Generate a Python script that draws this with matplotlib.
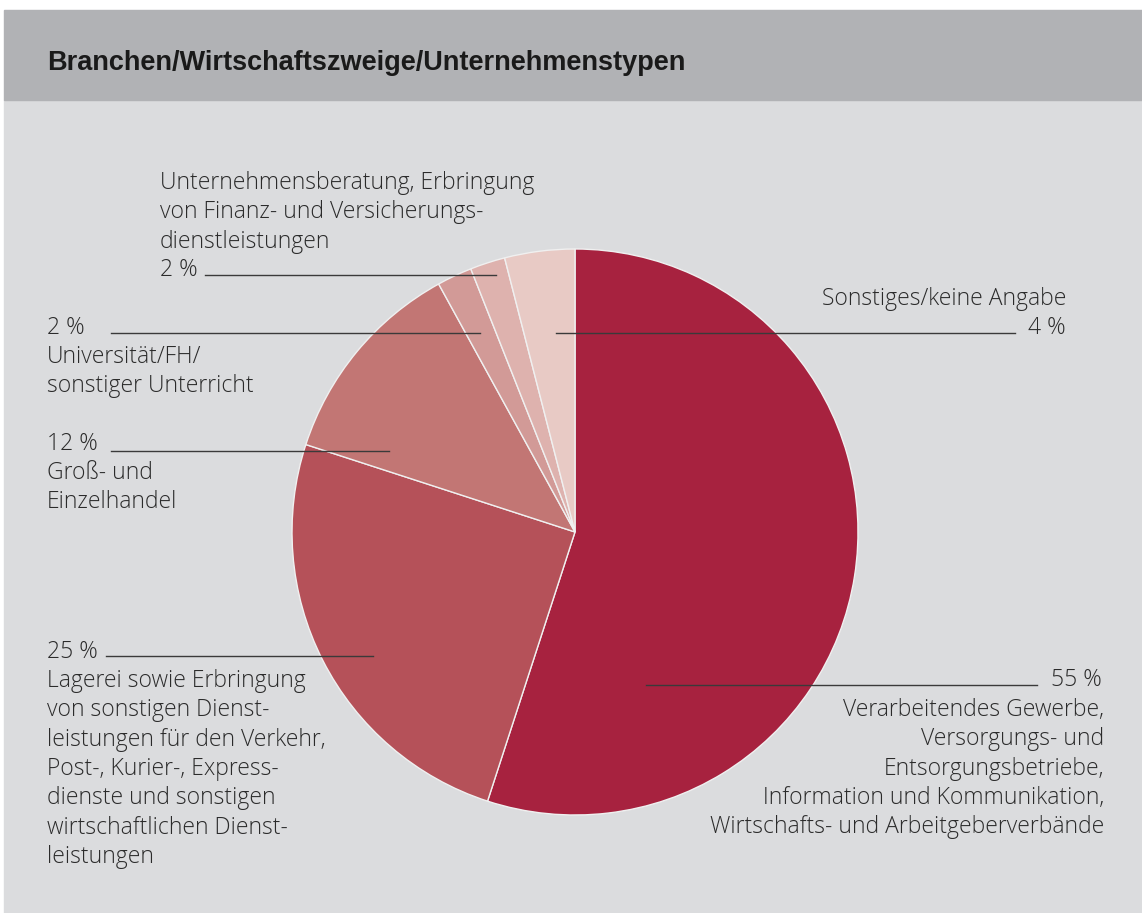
import matplotlib
matplotlib.use('Agg')
import matplotlib.pyplot as plt
from matplotlib.patches import Rectangle

W, H = 1142, 913

# Anteile in Prozent, im Uhrzeigersinn ab 12 Uhr
anteile = [55, 25, 12, 2, 2, 4]
prozent = ['55 %', '25 %', '12 %', '2 %', '2 %', '4 %']
branchen = [
    ['Verarbeitendes Gewerbe,', 'Versorgungs- und', 'Entsorgungsbetriebe,',
     'Information und Kommunikation,', 'Wirtschafts- und Arbeitgeberverbände'],
    ['Lagerei sowie Erbringung', 'von sonstigen Dienst-', 'leistungen für den Verkehr,',
     'Post-, Kurier-, Express-', 'dienste und sonstigen', 'wirtschaftlichen Dienst-',
     'leistungen'],
    ['Groß- und', 'Einzelhandel'],
    ['Universität/FH/', 'sonstiger Unterricht'],
    ['Unternehmensberatung, Erbringung', 'von Finanz- und Versicherungs-',
     'dienstleistungen'],
    ['Sonstiges/keine Angabe'],
]
farben = ['#A7223F', '#B55159', '#C27674', '#D29A97', '#DEB2AE', '#E8CAC5']
titel = 'Branchen/Wirtschaftszweige/Unternehmenstypen'

font = dict(family=['Open Sans', 'Liberation Sans', 'DejaVu Sans'], fontweight='light',
            fontsize=16.5, color='#2b2b2b')
lc = '#3a3a3a'
ls = 29.3

fig = plt.figure(figsize=(W / 100, H / 100), dpi=100, facecolor='white')
ax = fig.add_axes([0, 0, 1, 1])

def Y(y):
    return H - y

# Hintergrund
ax.add_patch(Rectangle((4, Y(913)), W, 813, color='#DBDCDE', zorder=0))
ax.add_patch(Rectangle((4, Y(100)), W, 90, color='#B1B2B5', zorder=0))
ax.text(47, Y(70), titel, family=['Liberation Sans Narrow', 'Liberation Sans', 'DejaVu Sans'],
        fontweight='bold', fontsize=19.5, color='#1a1a1a', va='baseline')

ax.pie(anteile, colors=farben, startangle=90, counterclock=False,
       center=(575, Y(532)), radius=283,
       wedgeprops=dict(edgecolor='#f0f0f0', linewidth=1.0))

def line(x0, x1, y):
    ax.plot([x0, x1], [Y(y), Y(y)], color=lc, lw=1.0, zorder=5)

def block(lines, x, y0, ha='left'):
    for i, t in enumerate(lines):
        ax.text(x, Y(y0 + i * ls), t, ha=ha, va='baseline', **font)

# 55 %
ax.text(1102, Y(686), prozent[0], ha='right', va='baseline', **font)
block(branchen[0], 1104, 716, ha='right')
line(646, 1037, 685)

# 25 %
ax.text(47, Y(658), prozent[1], va='baseline', **font)
block(branchen[1], 47, 687)
line(106, 373, 656)

# 12 %
ax.text(47, Y(450), prozent[2], va='baseline', **font)
block(branchen[2], 47, 479)
line(111, 389, 451)

# 2 % Universität
ax.text(47, Y(334), prozent[3], va='baseline', **font)
block(branchen[3], 47, 363)
line(111, 480, 333)

# 2 % Unternehmensberatung
block(branchen[4], 160, 189)
ax.text(160, Y(276), prozent[4], va='baseline', **font)
line(205, 496, 275)

# 4 % Sonstiges
block(branchen[5], 1066, 305, ha='right')
ax.text(1066, Y(334), prozent[5], ha='right', va='baseline', **font)
line(556, 1015, 333)

ax.set_xlim(0, W)
ax.set_ylim(0, H)
ax.set_aspect('auto')
ax.axis('off')

fig.savefig('out.png', dpi=100, facecolor='white')
